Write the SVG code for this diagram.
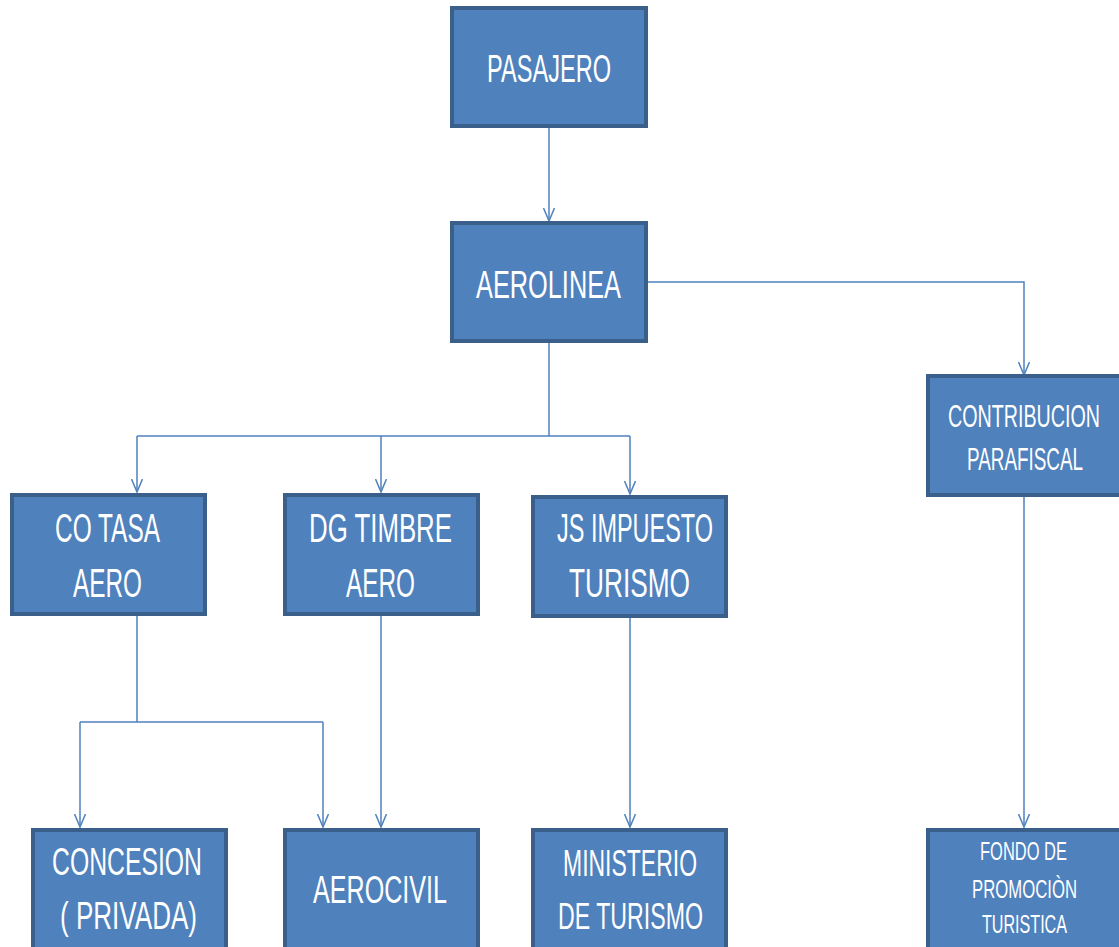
<svg xmlns="http://www.w3.org/2000/svg" width="1119" height="947" viewBox="0 0 1119 947">
<style>
.box{fill:#4F81BD;stroke:#3A5F8B;stroke-width:4}
.t{fill:#FFFFFF;font-family:"Liberation Sans",Arial,sans-serif;lengthAdjust:spacingAndGlyphs}
.c{fill:none;stroke:#4F81BD;stroke-width:1.5}
</style>
<defs>
<marker id="arr" markerUnits="userSpaceOnUse" markerWidth="14" markerHeight="12" viewBox="0 0 14 12" refX="13" refY="6" orient="auto">
<path d="M0,0.5 L13,6 L0,11.5" fill="none" stroke="#4F81BD" stroke-width="1.5"/>
</marker>
</defs>
<rect width="1119" height="947" fill="#FFFFFF"/>
<g id="connectors">
<path class="c" d="M549,128 V221" marker-end="url(#arr)"/>
<path class="c" d="M648,282 H1024 V375" marker-end="url(#arr)"/>
<path class="c" d="M549,343 V436"/>
<path class="c" d="M137,436 H630"/>
<path class="c" d="M137,436 V492" marker-end="url(#arr)"/>
<path class="c" d="M381,436 V492" marker-end="url(#arr)"/>
<path class="c" d="M630,436 V494" marker-end="url(#arr)"/>
<path class="c" d="M137,616 V722"/>
<path class="c" d="M80,722 H323"/>
<path class="c" d="M80,722 V827" marker-end="url(#arr)"/>
<path class="c" d="M323,722 V827" marker-end="url(#arr)"/>
<path class="c" d="M381,616 V827" marker-end="url(#arr)"/>
<path class="c" d="M630,617 V827" marker-end="url(#arr)"/>
<path class="c" d="M1024,497 V827" marker-end="url(#arr)"/>
</g>
<g id="pasajero">
<rect class="box" x="452" y="8" width="194" height="118"/>
<text class="t" x="487" y="82" font-size="39" textLength="124" lengthAdjust="spacingAndGlyphs">PASAJERO</text>
</g>
<g id="aerolinea">
<rect class="box" x="452" y="223" width="194" height="118"/>
<text class="t" x="476" y="298" font-size="39" textLength="145" lengthAdjust="spacingAndGlyphs">AEROLINEA</text>
</g>
<g id="contribucion">
<rect class="box" x="928" y="376" width="194" height="119"/>
<text class="t" x="948" y="427" font-size="32" textLength="152" lengthAdjust="spacingAndGlyphs">CONTRIBUCION</text>
<text class="t" x="967" y="470" font-size="32" textLength="116" lengthAdjust="spacingAndGlyphs">PARAFISCAL</text>
</g>
<g id="cotasa">
<rect class="box" x="12" y="495" width="193" height="119"/>
<text class="t" x="55" y="542" font-size="40" textLength="105" lengthAdjust="spacingAndGlyphs">CO TASA</text>
<text class="t" x="73" y="597" font-size="40" textLength="69" lengthAdjust="spacingAndGlyphs">AERO</text>
</g>
<g id="dgtimbre">
<rect class="box" x="285" y="495" width="193" height="119"/>
<text class="t" x="309" y="542" font-size="40" textLength="143" lengthAdjust="spacingAndGlyphs">DG TIMBRE</text>
<text class="t" x="346" y="597" font-size="40" textLength="69" lengthAdjust="spacingAndGlyphs">AERO</text>
</g>
<g id="jsimpuesto">
<rect class="box" x="533" y="497" width="193" height="119"/>
<text class="t" x="557" y="542" font-size="40" textLength="156" lengthAdjust="spacingAndGlyphs">JS IMPUESTO</text>
<text class="t" x="569" y="597" font-size="40" textLength="121" lengthAdjust="spacingAndGlyphs">TURISMO</text>
</g>
<g id="concesion">
<rect class="box" x="33" y="830" width="193" height="130"/>
<text class="t" x="52" y="875" font-size="39" textLength="150" lengthAdjust="spacingAndGlyphs">CONCESION</text>
<text class="t" x="60" y="929" font-size="39" textLength="137" lengthAdjust="spacingAndGlyphs">( PRIVADA)</text>
</g>
<g id="aerocivil">
<rect class="box" x="285" y="830" width="193" height="130"/>
<text class="t" x="313" y="903" font-size="39" textLength="134" lengthAdjust="spacingAndGlyphs">AEROCIVIL</text>
</g>
<g id="ministerio">
<rect class="box" x="533" y="830" width="193" height="130"/>
<text class="t" x="563" y="876" font-size="36" textLength="134" lengthAdjust="spacingAndGlyphs">MINISTERIO</text>
<text class="t" x="558" y="929" font-size="36" textLength="145" lengthAdjust="spacingAndGlyphs">DE TURISMO</text>
</g>
<g id="fondo">
<rect class="box" x="928" y="830" width="194" height="130"/>
<text class="t" x="980" y="860" font-size="25" textLength="87" lengthAdjust="spacingAndGlyphs">FONDO DE</text>
<text class="t" x="972" y="898" font-size="25" textLength="105" lengthAdjust="spacingAndGlyphs">PROMOCIÒN</text>
<text class="t" x="982" y="933" font-size="25" textLength="85" lengthAdjust="spacingAndGlyphs">TURISTICA</text>
</g>
</svg>
